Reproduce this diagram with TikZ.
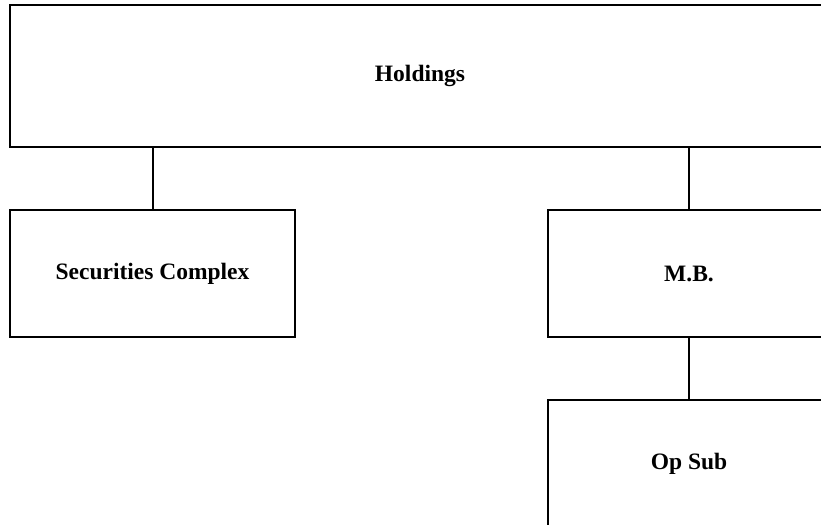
\documentclass[tikz,border=0pt]{standalone}
\usepackage{fontspec}
\setmainfont{Liberation Serif}
\usetikzlibrary{positioning}

\begin{document}
\begin{tikzpicture}[x=0.5pt,y=-0.5pt,
  orgbox/.style={draw=black,line width=1pt,fill=white,inner sep=0pt,align=center,font=\fontsize{11.75}{14}\selectfont\bfseries}]
\path[use as bounding box,clip] (0,0) rectangle (821,525);
\node[orgbox,minimum width=410pt,minimum height=71pt] (hold) at (420,76) {Holdings};
\node[orgbox,minimum width=142.5pt,minimum height=63.5pt] (sec) at (152.5,273.5) {Securities Complex};
\node[orgbox,minimum width=141pt,minimum height=63.5pt] (mb) at (689,273.5) {M.B.};
\node[orgbox,minimum width=141pt,minimum height=63.5pt] (op) at (689,463.5) {Op Sub};
\foreach \a/\b in {sec/hold,mb/hold}{\draw[line width=1pt] (\a.north)--(\a.north |- \b.south);}
\draw[line width=1pt] (op.north)--(mb.south);
\end{tikzpicture}
\end{document}
